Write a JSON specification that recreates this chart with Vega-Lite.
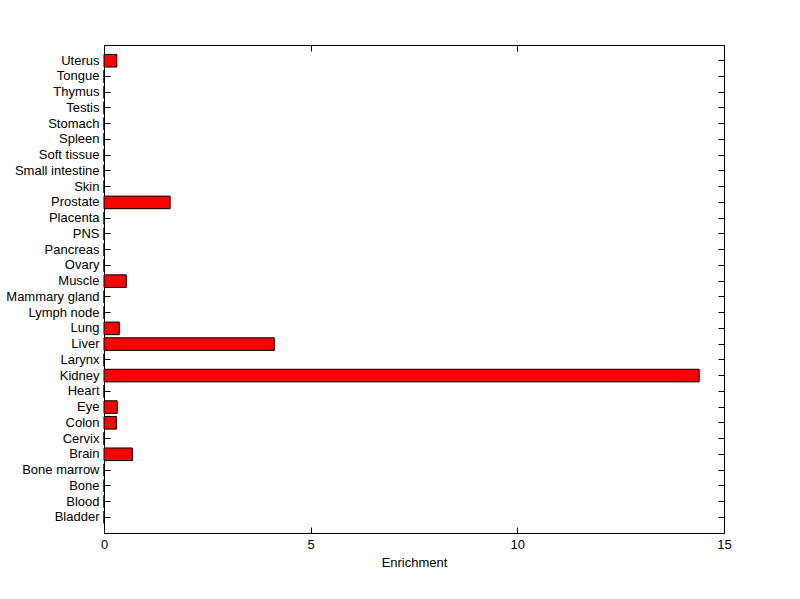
{
  "$schema": "https://vega.github.io/schema/vega-lite/v6.json",
  "width": 620,
  "height": 488,
  "autosize": {"type": "none"},
  "padding": {"left": 104, "top": 45, "right": 76, "bottom": 66},
  "background": "white",
  "data": {"values": [
    {"tissue": "Bladder", "enrichment": 0},
    {"tissue": "Blood", "enrichment": 0},
    {"tissue": "Bone", "enrichment": 0},
    {"tissue": "Bone marrow", "enrichment": 0},
    {"tissue": "Brain", "enrichment": 0.69},
    {"tissue": "Cervix", "enrichment": 0},
    {"tissue": "Colon", "enrichment": 0.30},
    {"tissue": "Eye", "enrichment": 0.32},
    {"tissue": "Heart", "enrichment": 0},
    {"tissue": "Kidney", "enrichment": 14.40},
    {"tissue": "Larynx", "enrichment": 0},
    {"tissue": "Liver", "enrichment": 4.12},
    {"tissue": "Lung", "enrichment": 0.37},
    {"tissue": "Lymph node", "enrichment": 0},
    {"tissue": "Mammary gland", "enrichment": 0},
    {"tissue": "Muscle", "enrichment": 0.54},
    {"tissue": "Ovary", "enrichment": 0},
    {"tissue": "Pancreas", "enrichment": 0},
    {"tissue": "PNS", "enrichment": 0},
    {"tissue": "Placenta", "enrichment": 0},
    {"tissue": "Prostate", "enrichment": 1.60},
    {"tissue": "Skin", "enrichment": 0},
    {"tissue": "Small intestine", "enrichment": 0},
    {"tissue": "Soft tissue", "enrichment": 0},
    {"tissue": "Spleen", "enrichment": 0},
    {"tissue": "Stomach", "enrichment": 0},
    {"tissue": "Testis", "enrichment": 0},
    {"tissue": "Thymus", "enrichment": 0},
    {"tissue": "Tongue", "enrichment": 0},
    {"tissue": "Uterus", "enrichment": 0.31}
  ]},
  "encoding": {
    "y": {
      "field": "tissue",
      "type": "nominal",
      "scale": {
        "domain": ["Uterus", "Tongue", "Thymus", "Testis", "Stomach", "Spleen", "Soft tissue", "Small intestine", "Skin", "Prostate", "Placenta", "PNS", "Pancreas", "Ovary", "Muscle", "Mammary gland", "Lymph node", "Lung", "Liver", "Larynx", "Kidney", "Heart", "Eye", "Colon", "Cervix", "Brain", "Bone marrow", "Bone", "Blood", "Bladder"],
        "paddingInner": 0.2,
        "paddingOuter": 0.6
      }
    },
    "x": {
      "field": "enrichment",
      "type": "quantitative",
      "scale": {"domain": [0, 15], "nice": false, "zero": true}
    }
  },
  "layer": [
    {
      "mark": {"type": "bar", "fill": "#ff0000", "stroke": "black", "strokeWidth": 1},
      "encoding": {
        "y": {"field": "tissue", "type": "nominal", "axis": {"orient": "left", "title": null}},
        "x": {"field": "enrichment", "type": "quantitative", "axis": {"orient": "bottom", "title": "Enrichment", "values": [0, 5, 10, 15], "labelFlush": false}}
      }
    },
    {
      "mark": {"type": "bar", "opacity": 0},
      "encoding": {
        "y": {"field": "tissue", "type": "nominal", "axis": {"orient": "right", "title": null, "labels": false}},
        "x": {"field": "enrichment", "type": "quantitative", "axis": {"orient": "top", "title": null, "labels": false, "values": [0, 5, 10, 15]}}
      }
    }
  ],
  "resolve": {"axis": {"x": "independent", "y": "independent"}},
  "config": {
    "view": {"stroke": "black", "strokeWidth": 1},
    "axis": {
      "grid": false,
      "domain": false,
      "tickColor": "black",
      "tickSize": -6,
      "tickWidth": 1,
      "labelColor": "black",
      "labelFont": "Liberation Sans",
      "labelFontSize": 13,
      "labelPadding": 11,
      "titleFont": "Liberation Sans",
      "titleFontSize": 13,
      "titleFontWeight": "normal",
      "titleColor": "black"
    },
    "axisX": {"titlePadding": 5}
  }
}
